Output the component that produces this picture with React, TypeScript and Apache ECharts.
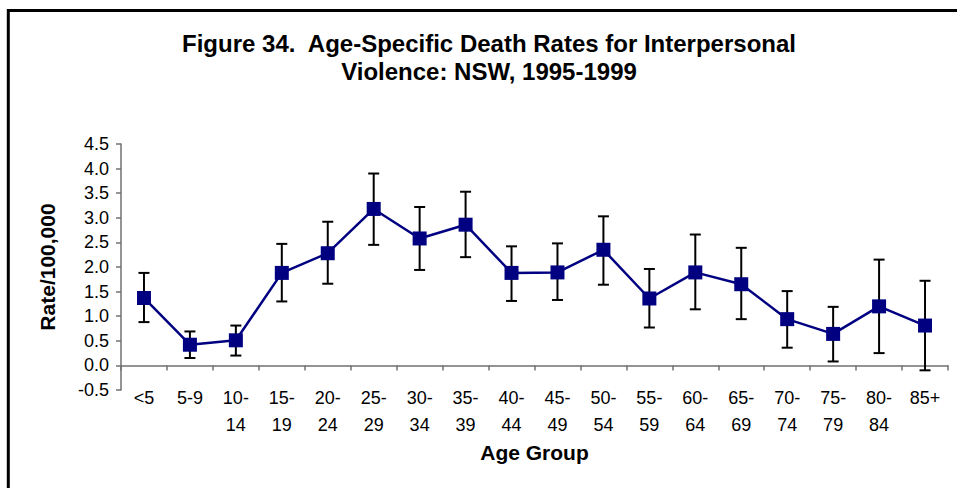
import React, { useEffect, useRef } from "react";
import * as echarts from "echarts";

const categories = ["<5", "5-9", "10-\n14", "15-\n19", "20-\n24", "25-\n29", "30-\n34", "35-\n39", "40-\n44", "45-\n49", "50-\n54", "55-\n59", "60-\n64", "65-\n69", "70-\n74", "75-\n79", "80-\n84", "85+"];
const rates = [1.37, 0.42, 0.51, 1.88, 2.28, 3.18, 2.58, 2.86, 1.88, 1.89, 2.35, 1.36, 1.89, 1.65, 0.94, 0.64, 1.2, 0.81];
const lower = [0.88, 0.15, 0.2, 1.3, 1.66, 2.45, 1.94, 2.2, 1.31, 1.33, 1.64, 0.77, 1.14, 0.94, 0.36, 0.08, 0.25, -0.1];
const upper = [1.88, 0.69, 0.81, 2.47, 2.92, 3.9, 3.22, 3.53, 2.42, 2.48, 3.03, 1.96, 2.66, 2.39, 1.51, 1.19, 2.15, 1.72];

const FONT = "'Liberation Sans', Arial, sans-serif";

export default function App() {
  const ref = useRef<HTMLDivElement>(null);
  useEffect(() => {
    if (!ref.current) return;
    const chart = echarts.init(ref.current, null, { renderer: "svg" });
    const errData = categories.map((_, i) => [i, lower[i], upper[i]]);
    chart.setOption({
      animation: false,
      backgroundColor: "#ffffff",
      textStyle: { fontFamily: FONT },
      title: {
        text: "Figure 34.  Age-Specific Death Rates for Interpersonal\nViolence: NSW, 1995-1999",
        left: 484,
        top: 24,
        textAlign: "center",
        textStyle: { fontFamily: FONT, fontSize: 24, fontWeight: "bold", color: "#000", lineHeight: 28 },
      },
      graphic: [
        {
          type: "rect",
          shape: { x: 8.3, y: 10.5, width: 1200, height: 1200 },
          style: { fill: "none", stroke: "#000", lineWidth: 3 },
          silent: true,
        },
      ],
      grid: { left: 121, right: 9, top: 144, bottom: 98, containLabel: false },
      xAxis: {
        type: "category",
        data: categories,
        boundaryGap: true,
        axisLine: { onZero: true, lineStyle: { color: "#707070", width: 1.5 } },
        axisTick: { show: true, length: 5, alignWithLabel: false, lineStyle: { color: "#707070", width: 1.5 } },
        axisLabel: { interval: 0, margin: -6, fontSize: 18, lineHeight: 27, color: "#000", fontFamily: FONT },
        name: "Age Group",
        nameLocation: "middle",
        nameGap: 52,
        nameMoveOverlap: false,
        nameTextStyle: { fontSize: 21, fontWeight: "bold", color: "#000", fontFamily: FONT },
      },
      yAxis: {
        type: "value",
        min: -0.5,
        max: 4.5,
        interval: 0.5,
        splitLine: { show: false },
        axisLine: { show: true, lineStyle: { color: "#707070", width: 1.5 } },
        axisTick: { show: true, length: 5, lineStyle: { color: "#707070", width: 1.5 } },
        axisLabel: { margin: 12, fontSize: 18, color: "#000", fontFamily: FONT, formatter: (v: number) => v.toFixed(1) },
        name: "Rate/100,000",
        nameLocation: "middle",
        nameGap: 63,
        nameRotate: 90,
        nameMoveOverlap: false,
        nameTextStyle: { fontSize: 21, fontWeight: "bold", color: "#000", fontFamily: FONT },
      },
      series: [
        {
          type: "custom",
          z: 1,
          data: errData,
          encode: { x: 0, y: [1, 2] },
          renderItem: (params: any, api: any) => {
            const idx = api.value(0);
            const lo = api.coord([idx, api.value(1)]);
            const hi = api.coord([idx, api.value(2)]);
            const hw = 5.5;
            const style = { stroke: "#000", lineWidth: 2 };
            return {
              type: "group",
              children: [
                { type: "line", shape: { x1: lo[0], y1: lo[1], x2: hi[0], y2: hi[1] }, style },
                { type: "line", shape: { x1: lo[0] - hw, y1: lo[1], x2: lo[0] + hw, y2: lo[1] }, style },
                { type: "line", shape: { x1: hi[0] - hw, y1: hi[1], x2: hi[0] + hw, y2: hi[1] }, style },
              ],
            };
          },
        },
        {
          type: "line",
          z: 3,
          data: rates,
          symbol: "rect",
          symbolSize: 14,
          lineStyle: { color: "#000080", width: 2.5 },
          itemStyle: { color: "#000080" },
        },
      ],
    });
    return () => chart.dispose();
  }, []);
  return <div ref={ref} style={{ position: "absolute", left: 0, top: 0, width: 957, height: 488 }} />;
}
